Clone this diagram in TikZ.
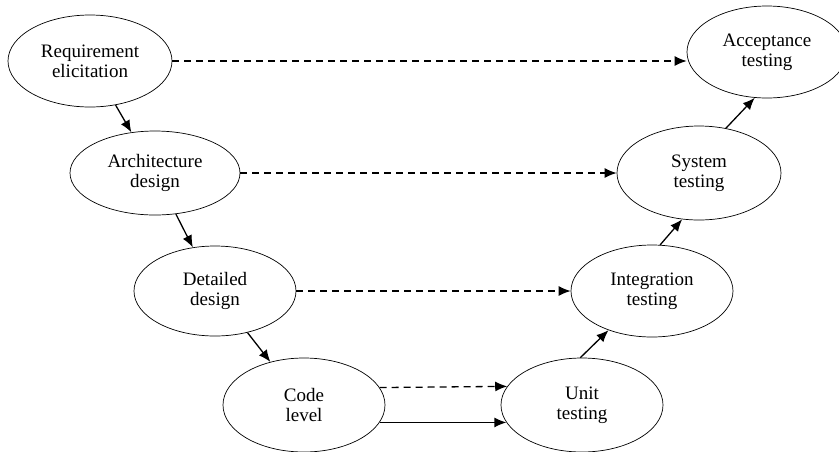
\documentclass[tikz,border=0pt]{standalone}
\usepackage{fontspec}
\setmainfont{Liberation Serif}
\usetikzlibrary{shapes.geometric,arrows.meta}

\tikzset{
  phase/.style={draw, ellipse, line width=.7pt, inner sep=0pt, align=center,
    minimum width=162pt, minimum height=92pt,
    font=\fontsize{19}{20}\selectfont},
  flow/.style={line width=1.3pt, -{Latex[length=12pt,width=10pt]}},
  trace/.style={flow, dash pattern=on 7pt off 5pt}
}

\begin{document}
\begin{tikzpicture}[x=1pt,y=-1pt]
\useasboundingbox (0,0) rectangle (839,451);
% left branch
\node[phase, minimum width=164pt] (req) at (90,61) {Requirement\\elicitation};
\node[phase, minimum width=170pt, minimum height=84pt] (arch) at (155,173) {Architecture\\design};
\node[phase, minimum height=90pt] (det) at (215,291) {Detailed\\design};
\node[phase, minimum height=94pt] (code) at (304,405) {Code\\level};
% right branch
\node[phase, minimum height=94pt] (unit) at (582,405) {Unit\\testing};
\node[phase] (integ) at (652,291) {Integration\\testing};
\node[phase, minimum width=164pt, minimum height=94pt] (sys) at (699,173) {System\\testing};
\node[phase, minimum width=160pt] (acc) at (767,52) {Acceptance\\testing};
% down
\draw[flow] (req) -- (arch);
\draw[flow] (arch) -- (det);
\draw[flow] (det) -- (code);
\draw[flow] (code.-13.5) -- (unit.193.5);
% up
\draw[flow] (unit.92) -- (integ.222);
\draw[flow] (integ.80) -- (sys.250);
\draw[flow] (sys.59) -- (acc.255);
% dashed links
\draw[trace] (req.east) -- (acc.west |- req.east);
\draw[trace] (arch) -- (sys);
\draw[trace] (det) -- (integ);
\draw[trace] (code.13.5) -- (unit.166.5);
\end{tikzpicture}
\end{document}
